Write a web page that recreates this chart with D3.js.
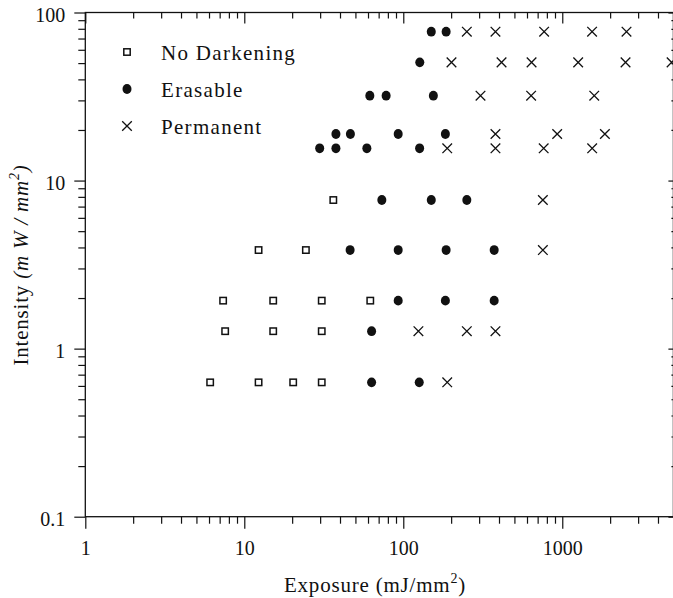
<!DOCTYPE html>
<html>
<head>
<meta charset="utf-8">
<script src="https://d3js.org/d3.v7.min.js"></script>
<style>
  body { margin: 0; background: white; }
  svg { display: block; font-family: "Liberation Serif", "Times New Roman", Times, "DejaVu Serif", serif; }
  .axis text { font-size: 20px; fill: #111; font-family: "Liberation Serif", "Times New Roman", Times, "DejaVu Serif", serif; }
  .axis line { stroke: #111; stroke-width: 1.2; }
  .axis path { display: none; }
</style>
</head>
<body>
<script>
// exposure (mJ/mm2) and intensity (mW/mm2) for each class
var noDarkX = [36.3, 12.3, 24.4, 7.36, 15.2, 30.7, 62, 7.58, 15.2, 30.7, 6.1, 12.3, 20.3, 30.7];
var noDarkY = [7.66, 3.86, 3.86, 1.93, 1.93, 1.93, 1.93, 1.27, 1.27, 1.27, 0.63, 0.63, 0.63, 0.63];

var erasX = [150, 186, 127, 61.6, 78, 154.6, 37.7, 46.5, 92.9, 184, 29.8, 37.7, 59, 126.7,
             73.3, 150, 251, 46.3, 92.9, 186, 373, 92.9, 184, 373, 63.2, 63.2, 126];
var erasY = [76.9, 76.9, 50.5, 32, 32, 32, 18.93, 18.93, 18.93, 18.93, 15.56, 15.56, 15.56, 15.56,
             7.66, 7.66, 7.66, 3.86, 3.86, 3.86, 3.86, 1.93, 1.93, 1.93, 1.27, 0.63, 0.63];

var permX = [251, 380, 769, 1540, 2535, 201, 415, 641, 1259, 2500, 4870, 306, 637, 1589,
             380, 929, 1854, 189, 380, 764, 1542, 755, 755, 124.5, 251, 380, 189];
var permY = [76.9, 76.9, 76.9, 76.9, 76.9, 50.5, 50.5, 50.5, 50.5, 50.5, 50.5, 32, 32, 32,
             18.93, 18.93, 18.93, 15.56, 15.56, 15.56, 15.56, 7.66, 3.86, 1.27, 1.27, 1.27, 0.63];

var xMajor = [1, 10, 100, 1000];
var yMajor = [0.1, 1, 10, 100];
var legendNames = ["No Darkening", "Erasable", "Permanent"];

var width = 673, height = 598;
var x = d3.scaleLog().domain([1, 5000]).range([85.3, 673.4]);
var y = d3.scaleLog().domain([0.1, 100]).range([516.7, 12.5]);

var xMinor = [];
[1, 10, 100, 1000].forEach(function(d){ for (var k = 2; k <= 9; k++) if (d*k <= 5000) xMinor.push(d*k); });
var yMinor = [];
[0.1, 1, 10].forEach(function(d){ for (var k = 2; k <= 9; k++) yMinor.push(+(d*k).toFixed(3)); });

var svg = d3.select("body").append("svg")
  .attr("width", width).attr("height", height);

// frame
svg.append("rect")
  .attr("x", x(1)).attr("y", y(100))
  .attr("width", x(5000) - x(1)).attr("height", y(0.1) - y(100))
  .attr("fill", "none").attr("stroke", "#111").attr("stroke-width", 1.3);

// bottom
svg.append("g").attr("class", "axis").attr("transform", "translate(0," + y(0.1) + ")")
  .call(d3.axisBottom(x).tickValues(xMinor).tickSize(7).tickFormat(""));
svg.append("g").attr("class", "axis").attr("transform", "translate(0," + y(0.1) + ")")
  .call(d3.axisBottom(x).tickValues(xMajor).tickSize(12).tickPadding(12).tickFormat(d3.format("d")));
// top (inside)
svg.append("g").attr("class", "axis").attr("transform", "translate(0," + y(100) + ")")
  .call(d3.axisBottom(x).tickValues(xMinor).tickSize(6).tickFormat(""));
svg.append("g").attr("class", "axis").attr("transform", "translate(0," + y(100) + ")")
  .call(d3.axisBottom(x).tickValues(xMajor).tickSize(11).tickFormat(""));
// left
svg.append("g").attr("class", "axis").attr("transform", "translate(" + x(1) + ",0)")
  .call(d3.axisLeft(y).tickValues(yMinor).tickSize(7).tickFormat(""));
var yl = svg.append("g").attr("class", "axis").attr("transform", "translate(" + x(1) + ",0)")
  .call(d3.axisLeft(y).tickValues(yMajor).tickSize(11).tickPadding(9).tickFormat(function(d){ return d < 1 ? "0.1" : d3.format("d")(d); }));
yl.selectAll("text").attr("dy", "0.45em");
// right (small inside ticks)
svg.append("g").attr("class", "axis").attr("transform", "translate(" + x(5000) + ",0)")
  .call(d3.axisLeft(y).tickValues(yMinor).tickSize(2).tickFormat(""));
svg.append("g").attr("class", "axis").attr("transform", "translate(" + x(5000) + ",0)")
  .call(d3.axisLeft(y).tickValues(yMajor).tickSize(5).tickFormat(""));

// markers
function drawSquare(g, cx, cy) {
  g.append("rect").attr("x", cx - 3.2).attr("y", cy - 3.2).attr("width", 6.4).attr("height", 6.4)
    .attr("fill", "white").attr("stroke", "#111").attr("stroke-width", 1.5);
}
function drawCircle(g, cx, cy) {
  g.append("ellipse").attr("cx", cx).attr("cy", cy).attr("rx", 4.5).attr("ry", 4.9).attr("fill", "#111");
}
function drawCross(g, cx, cy) {
  var s = 4.8;
  g.append("path").attr("d", "M" + (cx - s) + "," + (cy - s) + "L" + (cx + s) + "," + (cy + s) +
      "M" + (cx - s) + "," + (cy + s) + "L" + (cx + s) + "," + (cy - s))
    .attr("stroke", "#111").attr("stroke-width", 1.3).attr("fill", "none");
}

var pts = svg.append("g");
noDarkX.forEach(function(d, i){ drawSquare(pts, x(d), y(noDarkY[i])); });
erasX.forEach(function(d, i){ drawCircle(pts, x(d), y(erasY[i])); });
permX.forEach(function(d, i){ drawCross(pts, x(d), y(permY[i])); });

// legend
var drawers = [drawSquare, drawCircle, drawCross];
var leg = svg.append("g");
legendNames.forEach(function(name, i){
  var cy = 52 + i * 37;
  drawers[i](leg, 127, cy);
  leg.append("text").attr("x", 161).attr("y", cy + 8)
    .attr("font-size", 21).attr("letter-spacing", "1.3px").attr("fill", "#111").text(name);
});

// x title
var xt = svg.append("text").attr("x", 375).attr("y", 592).attr("text-anchor", "middle")
  .attr("font-size", 21).attr("letter-spacing", "0.8px").attr("fill", "#111");
xt.append("tspan").text("Exposure (mJ/mm");
xt.append("tspan").attr("font-size", 14).attr("dy", -9).text("2");
xt.append("tspan").attr("dy", 9).text(")");

// y title
var yt = svg.append("text").attr("transform", "translate(28," + 265 + ") rotate(-90)")
  .attr("text-anchor", "middle").attr("font-size", 21).attr("letter-spacing", "0.8px").attr("fill", "#111");
yt.append("tspan").text("Intensity ");
yt.append("tspan").attr("font-style", "italic").text("(m W / mm");
yt.append("tspan").attr("font-style", "italic").attr("font-size", 14).attr("dy", -9).text("2");
yt.append("tspan").attr("font-style", "italic").attr("dy", 9).text(")");
</script>
</body>
</html>
